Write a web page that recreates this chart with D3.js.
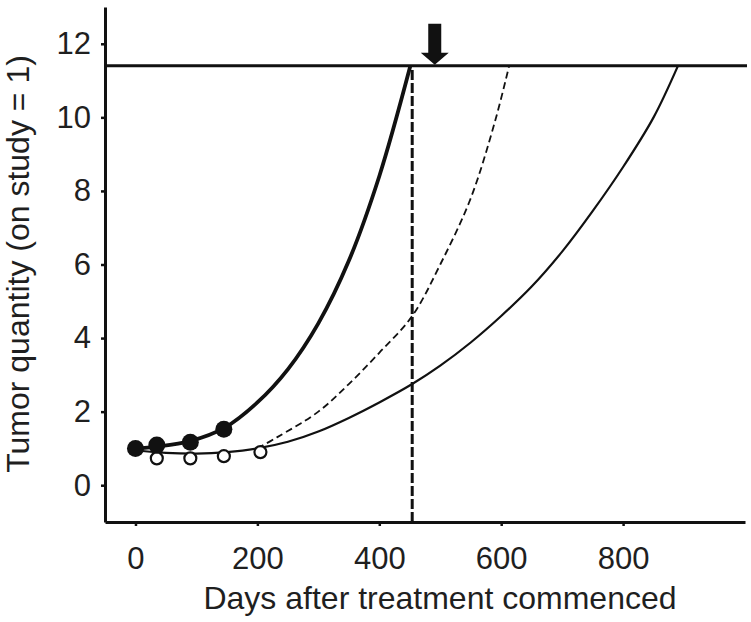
<!DOCTYPE html>
<html>
<head>
<meta charset="utf-8">
<script src="https://cdn.jsdelivr.net/npm/d3@7"></script>
<style>
  body { margin: 0; background: #fff; }
  text { font-family: "Liberation Sans", Arial, sans-serif; fill: #1f1f1f; }
</style>
</head>
<body>
<script>
// values
const xTicks = [0, 200, 400, 600, 800];
const yTicks = [0, 2, 4, 6, 8, 10, 12];

const filledDays = [0, 35, 90, 145];
const filledValues = [1.0, 1.09, 1.17, 1.52];

const openDays = [35, 90, 145, 205];
const openValues = [0.73, 0.73, 0.79, 0.9];

const thickDays = [0, 35, 90, 145, 200, 250, 300, 350, 400, 451];
const thickValues = [1.0, 1.05, 1.2, 1.55, 2.25, 3.15, 4.4, 6.1, 8.4, 11.4];

const thinDays = [0, 50, 100, 150, 200, 250, 300, 350, 400, 454, 500, 550, 600, 650, 700, 750, 800, 850, 890];
const thinValues = [0.95, 0.88, 0.86, 0.9, 1.0, 1.18, 1.46, 1.83, 2.25, 2.75, 3.25, 3.88, 4.6, 5.4, 6.35, 7.45, 8.65, 10.0, 11.4];

const dashDays = [200, 232, 300, 350, 400, 454, 500, 550, 590, 613];
const dashValues = [1.0, 1.3, 2.0, 2.75, 3.6, 4.6, 6.0, 7.8, 9.9, 11.4];

const threshold = 11.4;
const markerDay = 454;
const arrowDay = 491;

const width = 751, height = 622;
const margin = {left: 105, right: 6, top: 7, bottom: 100};

const svg = d3.select("body").append("svg")
  .attr("width", width)
  .attr("height", height);

const x = d3.scaleLinear().domain([-50, 1000]).range([margin.left, width - margin.right]);
const y = d3.scaleLinear().domain([-1, 13]).range([height - margin.bottom, margin.top]);

const ink = "#111";
const fontSize = 31;

// axes
const gx = svg.append("g")
  .attr("transform", `translate(0,${y(-1)})`)
  .call(d3.axisBottom(x).tickValues(xTicks).tickSize(4).tickSizeOuter(0).tickPadding(21));
const gy = svg.append("g")
  .attr("transform", `translate(${x(-50)},0)`)
  .call(d3.axisLeft(y).tickValues(yTicks).tickSize(4).tickSizeOuter(0).tickPadding(10));

[gx, gy].forEach(g => {
  g.select(".domain").attr("stroke", ink).attr("stroke-width", 3);
  g.selectAll(".tick line").attr("stroke", ink).attr("stroke-width", 2.5);
  g.selectAll(".tick text").attr("font-size", fontSize).attr("font-family", "Liberation Sans, Arial, sans-serif").attr("fill", "#1f1f1f");
});

// axis titles
svg.append("text")
  .attr("x", 440).attr("y", 609)
  .attr("text-anchor", "middle")
  .attr("font-size", fontSize + 1)
  .text("Days after treatment commenced");

svg.append("text")
  .attr("transform", `translate(29,264) rotate(-90)`)
  .attr("text-anchor", "middle")
  .attr("font-size", fontSize + 1)
  .text("Tumor quantity (on study = 1)");

// threshold line
svg.append("line")
  .attr("x1", x(-50)).attr("x2", x(1000) + 2)
  .attr("y1", y(threshold)).attr("y2", y(threshold))
  .attr("stroke", ink).attr("stroke-width", 3);

// vertical dashed marker
svg.append("line")
  .attr("x1", x(markerDay)).attr("x2", x(markerDay))
  .attr("y1", y(-1)).attr("y2", y(threshold))
  .attr("stroke", ink).attr("stroke-width", 3)
  .attr("stroke-dasharray", "10,3");

const line = d3.line()
  .x(d => x(d[0]))
  .y(d => y(d[1]))
  .curve(d3.curveCatmullRom.alpha(0.5));

// thin solid curve
svg.append("path")
  .datum(d3.zip(thinDays, thinValues))
  .attr("d", line)
  .attr("fill", "none").attr("stroke", ink).attr("stroke-width", 2.2);

// dashed curve
svg.append("path")
  .datum(d3.zip(dashDays, dashValues))
  .attr("d", line)
  .attr("fill", "none").attr("stroke", ink).attr("stroke-width", 1.8)
  .attr("stroke-dasharray", "7,4");

// thick curve
svg.append("path")
  .datum(d3.zip(thickDays, thickValues))
  .attr("d", line)
  .attr("fill", "none").attr("stroke", ink).attr("stroke-width", 3.8);

// open circles
svg.selectAll(".open")
  .data(d3.zip(openDays, openValues))
  .join("circle")
  .attr("class", "open")
  .attr("cx", d => x(d[0])).attr("cy", d => y(d[1]))
  .attr("r", 6)
  .attr("fill", "#fff").attr("stroke", ink).attr("stroke-width", 2.2);

// filled circles
svg.selectAll(".filled")
  .data(d3.zip(filledDays, filledValues))
  .join("circle")
  .attr("class", "filled")
  .attr("cx", d => x(d[0])).attr("cy", d => y(d[1]))
  .attr("r", 8.5)
  .attr("fill", ink);

// arrow pointing at threshold
const ax = x(arrowDay), tip = y(threshold) - 1;
svg.append("path")
  .attr("d", `M${ax - 6.5},${tip - 41} H${ax + 6.5} V${tip - 12} H${ax + 14} L${ax},${tip} L${ax - 14},${tip - 12} H${ax - 6.5} Z`)
  .attr("fill", ink);
</script>
</body>
</html>
